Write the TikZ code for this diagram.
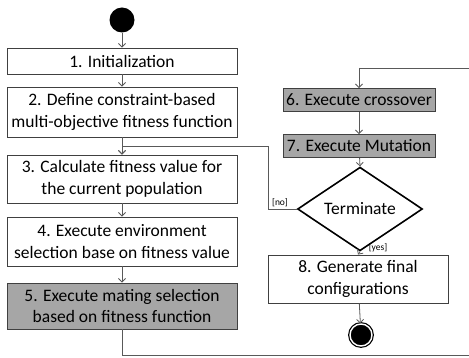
\documentclass[tikz,border=0pt]{standalone}
\usepackage{fontspec}
\setmainfont{Carlito}
\usetikzlibrary{arrows.meta,shapes.geometric}
\definecolor{boxline}{HTML}{404040}
\definecolor{conn}{HTML}{595959}
\definecolor{grayfill}{HTML}{A6A6A6}
\begin{document}
\begin{tikzpicture}[x=1pt,y=-1pt,
  box/.style={draw=boxline,line width=0.9pt,fill=white,rectangle,align=center,inner sep=0pt,
    font=\fontsize{17.5}{21.5}\selectfont},
  graybox/.style={box,fill=grayfill},
  conn/.style={draw=conn,line width=0.8pt},
  arr/.style={conn,-{Straight Barb[length=3.5pt,width=7pt]}},
  lbl/.style={font=\fontsize{9.5}{10}\selectfont,inner sep=0pt}]
\useasboundingbox (0,0) rectangle (469,358);
\node[circle,fill=black,minimum size=25pt,inner sep=0pt] (start) at (122,20) {};
\node[box,minimum width=230pt,minimum height=26pt] (b1) at (122,61) {1. Initialization};
\node[box,minimum width=230pt,minimum height=50pt] (b2) at (122,112) {2. Define constraint-based\\multi-objective fitness function};
\node[box,minimum width=230pt,minimum height=48pt] (b3) at (122,179) {3. Calculate fitness value for\\the current population};
\node[box,minimum width=230pt,minimum height=49pt] (b4) at (122,241.5) {4. Execute environment\\selection base on fitness value};
\node[graybox,minimum width=230pt,minimum height=46pt] (b5) at (122,306) {5. Execute mating selection\\based on fitness function};
\node[graybox,minimum width=152pt,minimum height=23pt] (b6) at (359,100) {6. Execute crossover};
\node[graybox,minimum width=152pt,minimum height=23pt] (b7) at (359,146) {7. Execute Mutation};
\node[box,diamond,minimum width=125pt,minimum height=58pt,line width=1.6pt,draw=black] (d) at (360,209) {Terminate};
\node[box,minimum width=180pt,minimum height=48pt] (b8) at (358,279) {8. Generate final\\configurations};
\node[circle,fill=black,draw=black,line width=1.2pt,double=white,double distance=1.4pt,minimum size=22pt,inner sep=0pt] (stop) at (361,335) {};
\coordinate (j3) at (122,146.5);
\coordinate (bl) at (122,355);
\coordinate (br) at (490,355);
\coordinate (tr) at (490,68);
\coordinate (t6) at (b6.north |- tr);
\coordinate (nx) at (268,209);
\coordinate (ny) at (268,146.5);
\draw[arr] (start) -- (b1);
\draw[arr] (b1) -- (b2);
\draw[arr] (b2) -- (b3);
\draw[arr] (b3) -- (b4);
\draw[arr] (b4) -- (b5);
\draw[conn] (b5.south) -- (bl) -- (br) -- (tr) -- (t6);
\draw[arr] (t6) -- (b6.north);
\draw[arr] (b6) -- (b7);
\draw[arr] (b7) -- (d.north);
\draw[conn] (d.west) -- (nx) -- (ny) -- (j3);
\draw[arr] (j3) -- (b3.north);
\draw[arr] (d.south) -- (b8.north);
\draw[arr] (b8) -- (stop);
\node[lbl] (no) at (280,202.5) {[no]};
\node[lbl] (yes) at (378,247.5) {[yes]};
\end{tikzpicture}
\end{document}
